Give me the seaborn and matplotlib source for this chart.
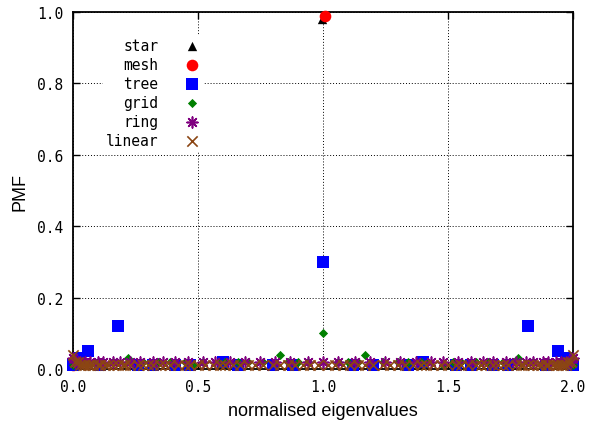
import matplotlib
matplotlib.use("Agg")
import matplotlib.pyplot as plt
import seaborn as sns
import pandas as pd

# PMF of (rounded) normalised-Laplacian eigenvalues
star_x = [0.00, 0.995, 2.00]
star_p = [0.01, 0.98, 0.01]

mesh_x = [0.00, 1.01]
mesh_p = [0.01, 0.99]

tree_x = [0.00, 0.03, 0.06, 0.11, 0.18, 0.26, 0.32, 0.41, 0.47, 0.60, 0.66, 0.80, 0.88,
          1.00, 1.12, 1.20, 1.34, 1.40, 1.53, 1.59, 1.68, 1.74, 1.82, 1.89, 1.94, 1.97, 2.00]
tree_p = [0.01, 0.03, 0.05, 0.01, 0.12, 0.01, 0.01, 0.01, 0.01, 0.02, 0.01, 0.01, 0.01,
          0.30, 0.01, 0.01, 0.01, 0.02, 0.01, 0.01, 0.01, 0.01, 0.12, 0.01, 0.05, 0.03, 0.01]

grid_x = [0.00, 0.06, 0.10, 0.16, 0.22, 0.28, 0.34, 0.39, 0.45, 0.48, 0.52, 0.58, 0.61,
          0.66, 0.70, 0.76, 0.83, 0.86, 0.90, 0.94, 1.00, 1.06, 1.10, 1.14, 1.17, 1.24,
          1.30, 1.34, 1.39, 1.42, 1.48, 1.52, 1.55, 1.61, 1.66, 1.72, 1.78, 1.84, 1.90,
          1.94, 2.00]
grid_p = [0.01, 0.02, 0.02, 0.02, 0.03, 0.02, 0.02, 0.02, 0.02, 0.01, 0.02, 0.02, 0.02,
          0.02, 0.02, 0.02, 0.04, 0.02, 0.02, 0.02, 0.10, 0.02, 0.02, 0.02, 0.04, 0.02,
          0.02, 0.02, 0.02, 0.02, 0.01, 0.02, 0.02, 0.02, 0.02, 0.02, 0.03, 0.02, 0.02,
          0.02, 0.01]

ring_x = [0.00, 0.01, 0.02, 0.03, 0.05, 0.07, 0.10, 0.12, 0.16, 0.19, 0.23, 0.27, 0.32,
          0.36, 0.41, 0.46, 0.52, 0.57, 0.63, 0.69, 0.75, 0.81, 0.87, 0.94, 1.00, 1.06,
          1.13, 1.19, 1.25, 1.31, 1.37, 1.43, 1.48, 1.54, 1.59, 1.64, 1.68, 1.73, 1.77,
          1.81, 1.84, 1.88, 1.90, 1.93, 1.95, 1.97, 1.98, 1.99, 2.00]
ring_p = [0.03, 0.02, 0.02, 0.02, 0.02, 0.02, 0.02, 0.02, 0.02, 0.02, 0.02, 0.02, 0.02,
          0.02, 0.02, 0.02, 0.02, 0.02, 0.02, 0.02, 0.02, 0.02, 0.02, 0.02, 0.02, 0.02,
          0.02, 0.02, 0.02, 0.02, 0.02, 0.02, 0.02, 0.02, 0.02, 0.02, 0.02, 0.02, 0.02,
          0.02, 0.02, 0.02, 0.02, 0.02, 0.02, 0.02, 0.02, 0.02, 0.03]

linear_x = [0.00, 0.01, 0.02, 0.03, 0.04, 0.05, 0.06, 0.07, 0.08, 0.10, 0.11, 0.13, 0.14,
            0.16, 0.18, 0.20, 0.21, 0.23, 0.26, 0.28, 0.30, 0.32, 0.35, 0.37, 0.39, 0.42,
            0.45, 0.47, 0.50, 0.53, 0.56, 0.59, 0.61, 0.64, 0.67, 0.70, 0.73, 0.76, 0.80,
            0.83, 0.86, 0.89, 0.92, 0.95, 0.98, 1.02, 1.05, 1.08, 1.11, 1.14, 1.17, 1.20,
            1.24, 1.27, 1.30, 1.33, 1.36, 1.39, 1.41, 1.44, 1.47, 1.50, 1.53, 1.55, 1.58,
            1.61, 1.63, 1.65, 1.68, 1.70, 1.72, 1.74, 1.77, 1.79, 1.80, 1.82, 1.84, 1.86,
            1.87, 1.89, 1.90, 1.92, 1.93, 1.94, 1.95, 1.96, 1.97, 1.98, 1.99, 2.00]
linear_p = [0.04, 0.02, 0.02] + [0.01] * 84 + [0.02, 0.02, 0.04]

series = [
    ("star", star_x, star_p, "black", "^", 45),
    ("mesh", mesh_x, mesh_p, "red", "o", 70),
    ("tree", tree_x, tree_p, "blue", "s", 80),
    ("grid", grid_x, grid_p, "green", "D", 22),
    ("ring", ring_x, ring_p, "purple", (8, 2, 0), 60),
    ("linear", linear_x, linear_p, "#8B4513", "x", 55),
]

fig = plt.figure(figsize=(5.9, 4.31), dpi=100)
ax = fig.add_axes([0.1237, 0.1415, 0.8475, 0.8283])

for name, xs, ps, col, mk, sz in series:
    d = pd.DataFrame({"eig": xs, "pmf": ps})
    filled = mk in ("^", "o", "s", "D")
    sns.scatterplot(data=d, x="eig", y="pmf", ax=ax, color=col, marker=mk, s=sz,
                    linewidth=0 if filled else 1.2, label=name, clip_on=False, zorder=3)

ax.set_xlim(0, 2)
ax.set_ylim(0, 1)
ax.set_xticks([0, 0.5, 1.0, 1.5, 2.0])
ax.set_yticks([0, 0.2, 0.4, 0.6, 0.8, 1.0])
ax.set_xticklabels(["0.0", "0.5", "1.0", "1.5", "2.0"], family="DejaVu Sans Mono", fontsize=10.5)
ax.set_yticklabels(["0.0", "0.2", "0.4", "0.6", "0.8", "1.0"], family="DejaVu Sans Mono", fontsize=10.5)
ax.tick_params(direction="in", length=5, width=1, top=True, right=True, pad=7, colors="black")
ax.grid(True, color="black", linestyle=(0, (1, 2)), linewidth=0.7)
for sp in ax.spines.values():
    sp.set_linewidth(1.3)
    sp.set_color("black")

ax.set_xlabel("normalised eigenvalues", family="Liberation Sans", fontsize=13, labelpad=6)
ax.set_ylabel("PMF", family="Liberation Sans", fontsize=13, labelpad=6)

leg = ax.legend(loc="upper left", bbox_to_anchor=(0.045, 0.955), frameon=True, markerfirst=False,
                prop={"family": "DejaVu Sans Mono", "size": 10.5}, labelspacing=0.27,
                handletextpad=1.7, handlelength=1.2, borderpad=0.2, facecolor="white",
                edgecolor="white", framealpha=1)

fig.savefig("out.png", dpi=100)
